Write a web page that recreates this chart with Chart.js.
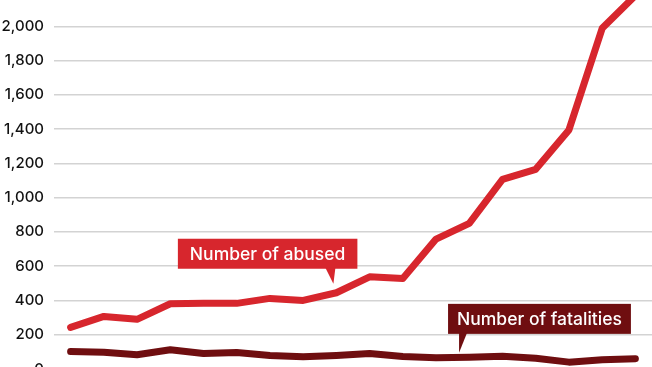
<!DOCTYPE html>
<html>
<head>
<meta charset="utf-8">
<script src="https://cdn.jsdelivr.net/npm/chart.js@4.4.0/dist/chart.umd.min.js"></script>
<style>
  html, body { margin: 0; padding: 0; background: #fff; overflow: hidden; }
  body { width: 652px; height: 367px; position: relative; }
  #contenitore { position: absolute; left: 0; top: -30px; width: 652px; height: 420px; }
</style>
</head>
<body>
<div id="contenitore"><canvas id="myChart"></canvas></div>
<script>
// dati (18 rilevazioni, asse x senza etichette)
var etichette = ["1", "2", "3", "4", "5", "6", "7", "8", "9", "10", "11", "12", "13", "14", "15", "16", "17", "18"];
var abusati = [243, 307, 290, 381, 384, 383, 412, 400, 445, 538, 528, 758, 850, 1106, 1165, 1395, 1988, 2180];
var vittime = [102, 98, 83, 112, 91, 96, 79, 71, 79, 90, 73, 65, 69, 75, 63, 40, 54, 60];
var tacche = [0, 200, 400, 600, 800, 1000, 1200, 1400, 1600, 1800, 2000, 2200];

var rosso = "#d7262d";
var bordeaux = "#6f0e10";
var font = "Inter, 'Liberation Sans', sans-serif";

// disegno un fumetto con la punta in (px, py)
function disegnaFumetto(c, testo, px, py, lato, colore) {
  c.save();
  c.font = "500 17.5px " + font;
  var w = c.measureText(testo).width;
  var h = 30;
  var sx, base1, base2, basso;
  if (lato == "sinistra") {
    // punta sotto il lato destro
    w = w + 24;
    sx = px + 24 - w;
    basso = py - 15;
    base1 = px - 8;
    base2 = px + 2;
  } else {
    w = w + 18;
    sx = px - 11;
    basso = py - 19;
    base1 = px;
    base2 = px + 8;
  }
  c.fillStyle = colore;
  c.fillRect(sx, basso - h, w, h);
  c.beginPath();
  c.moveTo(base1, basso - 1);
  c.lineTo(base2, basso - 1);
  c.lineTo(px, py);
  c.closePath();
  c.fill();
  c.fillStyle = "#fff";
  c.textAlign = "center";
  c.textBaseline = "middle";
  c.fillText(testo, sx + w / 2, basso - h / 2 + 1);
  c.restore();
}

var fumetti = {
  id: "fumetti",
  afterDatasetsDraw: function(chart) {
    var c = chart.ctx;
    var sx = chart.scales.x;
    var sy = chart.scales.y;
    disegnaFumetto(c, "Number of abused", sx.getPixelForValue(8) - 3, sy.getPixelForValue(abusati[8]) - 9, "sinistra", rosso);
    disegnaFumetto(c, "Number of fatalities", sx.getPixelForValue(11) + 23, sy.getPixelForValue(vittime[11]) - 5, "destra", bordeaux);
  }
};

var ctx = document.getElementById("myChart");

var grafico = new Chart(ctx, {
  type: "line",
  data: {
    labels: etichette,
    datasets: [{
      label: "Number of abused",
      data: abusati,
      borderColor: rosso,
      borderWidth: 7,
      borderJoinStyle: "round",
      borderCapStyle: "round",
      pointRadius: 0,
      tension: 0,
      fill: false
    }, {
      label: "Number of fatalities",
      data: vittime,
      borderColor: bordeaux,
      borderWidth: 7,
      borderJoinStyle: "round",
      borderCapStyle: "round",
      pointRadius: 0,
      tension: 0,
      fill: false
    }]
  },
  options: {
    responsive: true,
    maintainAspectRatio: false,
    animation: false,
    layout: { padding: { top: 22, bottom: 21, left: 0, right: 0 } },
    plugins: {
      legend: { display: false },
      tooltip: { enabled: false }
    },
    scales: {
      x: {
        display: false,
        offset: true
      },
      y: {
        min: 0,
        max: 2200,
        afterBuildTicks: function(scala) {
          scala.ticks = tacche.map(function(v) { return { value: v }; });
        },
        afterFit: function(scala) {
          scala.width = 54;
        },
        border: { display: false },
        grid: { color: "#d3d3d3", lineWidth: 1.5, drawTicks: false },
        ticks: {
          padding: 10,
          color: "#111",
          font: { family: font, size: 15, weight: "500" },
          callback: function(v) { return v.toLocaleString("en-US"); }
        }
      }
    }
  },
  plugins: [fumetti]
});
</script>
</body>
</html>
